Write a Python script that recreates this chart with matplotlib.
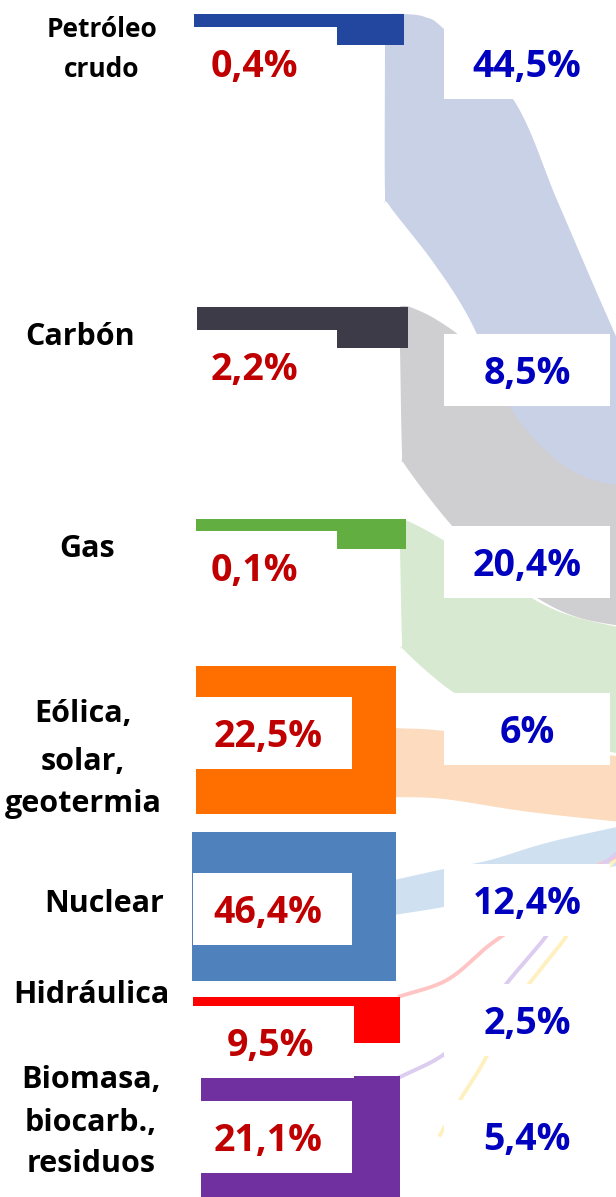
import matplotlib
matplotlib.use("Agg")
import matplotlib.pyplot as plt
import numpy as np

# ---------------------------------------------------------------------------
# data
# ---------------------------------------------------------------------------
sources = ["Petróleo\ncrudo", "Carbón", "Gas", "Eólica,\nsolar,\ngeotermia",
           "Nuclear", "Hidráulica", "Biomasa,\nbiocarb.,\nresiduos"]
share_left = [0.4, 2.2, 0.1, 22.5, 46.4, 9.5, 21.1]     # red figures
share_right = [44.5, 8.5, 20.4, 6, 12.4, 2.5, 5.4]      # blue figures

node_colors = ["#23479F", "#3C3B47", "#62AE41", "#FF6F00",
               "#4F81BD", "#FF0000", "#7030A0"]
flow_colors = ["#C8D1E6", "#CFCFD1", "#D8E9D1", "#FDDBBF",
               "#CFE1F1", "#FFC5C5", "#DCCCF0"]

# ---------------------------------------------------------------------------
# layout (pixel coordinates, y grows downwards)
# ---------------------------------------------------------------------------
W, H = 616, 1197
bar_x0 = [194, 197, 196, 196, 192, 193, 201]
bar_x1 = [404, 408, 406, 396, 396, 400, 400]
bar_y0 = [14, 307, 519, 666, 832, 997, 1076]
bar_y1 = [45, 348, 549, 814, 981, 1043, 1200]

lbox_x1 = [337, 337, 337, 352, 352, 354, 352]
lbox_x0 = [193, 193, 193, 193, 193, 193, 201]
lbox_y0 = [27, 330, 531, 697, 873, 1006, 1101]
ltext_x = [254, 254, 254, 268, 268, 270, 268]
rbox_y0 = [27, 334, 526, 693, 864, 984, 1100]
rbox_x0, rbox_x1, box_h = 444, 610, 72
rtext_x = 527

label_x = [102, 80, 87, 83, 104, 91, 91]
label_base = [[37, 77], [345], [557], [722, 770, 812], [912], [1003],
              [1088, 1131, 1172]]
label_size = [19, 22, 22, 22, 22, 22, 22]

# flow bands: (upper edge, lower edge) as guide points
bands = {
    2: ([(400, 519), (410, 522), (443, 540), (500, 578), (560, 612), (640, 632)],
        [(400, 549), (402, 640), (404, 650), (450, 690), (500, 718), (560, 742),
         (640, 757)]),
    1: ([(400, 306), (410, 307), (437, 320), (470, 345), (520, 400), (570, 450),
         (640, 478)],
        [(400, 348), (402, 452), (405, 465), (447, 520), (490, 565), (537, 598),
         (580, 618), (640, 629)]),
    3: ([(394, 728), (444, 731), (530, 745), (640, 759)],
        [(394, 797), (444, 799), (530, 812), (640, 824)]),
    4: ([(394, 880), (444, 869), (490, 860), (550, 842), (640, 822)],
        [(394, 915), (444, 907), (490, 898), (550, 880), (640, 861)]),
    0: ([(385, 14), (404, 14), (425, 17), (445, 30), (513, 99), (557, 200),
         (600, 300), (640, 390)],
        [(385, 45), (385, 190), (389, 205), (433, 262), (470, 320), (510, 407),
         (553, 457), (593, 480), (640, 487)]),
}
threads = {
    5: [(398, 997), (447, 980), (487, 947), (510, 930), (545, 900), (580, 875),
        (640, 845)],
    6: [(398, 1078), (443, 1055), (480, 1020), (507, 983), (547, 935),
        (580, 885), (640, 835)],
}
yellow_thread = [(440, 1135), (460, 1100), (483, 1063), (510, 1010), (540, 970),
                 (567, 935), (595, 885), (640, 830)]


def spline(pts, n=24):
    # Catmull-Rom through the guide points
    p = np.asarray(pts, dtype=float)
    p = np.vstack([2 * p[0] - p[1], p, 2 * p[-1] - p[-2]])
    t = np.linspace(0, 1, n, endpoint=False)[:, None]
    out = []
    for i in range(1, len(p) - 2):
        p0, p1, p2, p3 = p[i - 1], p[i], p[i + 1], p[i + 2]
        out.append(0.5 * (2 * p1 + (-p0 + p2) * t
                          + (2 * p0 - 5 * p1 + 4 * p2 - p3) * t ** 2
                          + (-p0 + 3 * p1 - 3 * p2 + p3) * t ** 3))
    out.append(p[-2][None])
    return np.vstack(out)


def pct(v):
    if float(v).is_integer():
        return f"{int(v)}%"
    return f"{v:.1f}".replace(".", ",") + "%"


plt.rcParams["font.family"] = ["Open Sans", "DejaVu Sans"]

fig = plt.figure(figsize=(W / 100, H / 100), dpi=100)
ax = fig.add_axes([0, 0, 1, 1])
ax.set_xlim(0, W)
ax.set_ylim(H, 0)
ax.axis("off")

# flows
for i in [2, 1, 3, 4, 0]:
    top, bot = bands[i]
    poly = np.vstack([spline(top), spline(bot)[::-1]])
    ax.fill(poly[:, 0], poly[:, 1], color=flow_colors[i], lw=0, zorder=1)
for i, pts in threads.items():
    c = spline(pts)
    ax.plot(c[:, 0], c[:, 1], color=flow_colors[i], lw=2.8, zorder=1.5,
            solid_capstyle="butt")
c = spline(yellow_thread)
ax.plot(c[:, 0], c[:, 1], color="#FFF0C0", lw=2.8, zorder=1.4)

# node bars
for i in range(len(sources)):
    ax.barh((bar_y0[i] + bar_y1[i]) / 2, bar_x1[i] - bar_x0[i],
            height=bar_y1[i] - bar_y0[i], left=bar_x0[i],
            color=node_colors[i], lw=0, zorder=2)

# white boxes and figures
for i in range(len(sources)):
    ax.barh(lbox_y0[i] + box_h / 2, lbox_x1[i] - lbox_x0[i], height=box_h,
            left=lbox_x0[i], color="white", lw=0, zorder=3)
    ax.barh(rbox_y0[i] + box_h / 2, rbox_x1 - rbox_x0, height=box_h,
            left=rbox_x0, color="white", lw=0, zorder=3)
    ax.text(ltext_x[i], lbox_y0[i] + box_h / 2 + 14, pct(share_left[i]),
            ha="center", va="baseline", fontsize=27, fontweight="bold",
            color="#C00000", zorder=4)
    ax.text(rtext_x, rbox_y0[i] + box_h / 2 + 14, pct(share_right[i]),
            ha="center", va="baseline", fontsize=27, fontweight="bold",
            color="#0000BF", zorder=4)

# source labels
for i, name in enumerate(sources):
    for line, yb in zip(name.split("\n"), label_base[i]):
        ax.text(label_x[i], yb, line, ha="center", va="baseline",
                fontsize=label_size[i], fontweight="bold", color="black",
                zorder=4)

fig.savefig("out.png", dpi=100)
